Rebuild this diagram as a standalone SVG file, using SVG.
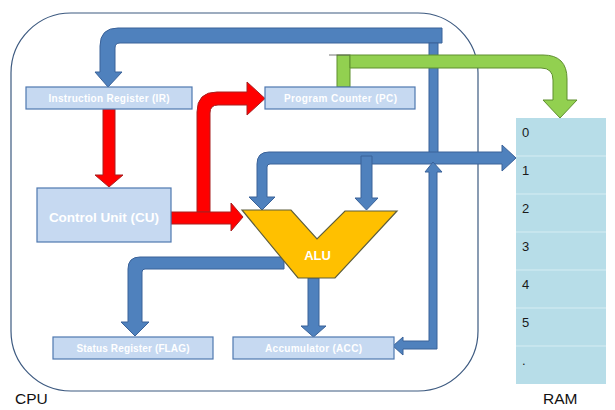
<svg xmlns="http://www.w3.org/2000/svg" width="615" height="410" viewBox="0 0 615 410">
<style>
.box{fill:#c6d9f1;stroke:#4f78b0;stroke-width:1.2}
.lbl{font-family:"Liberation Sans",Arial,sans-serif;font-weight:bold;fill:#ffffff;text-anchor:middle}
.blue{fill:#4f81bd;stroke:#3a6299;stroke-width:1}
.red{fill:#ff0000;stroke:#a82020;stroke-width:1}
.green{fill:#92d050;stroke:#5f8f2f;stroke-width:1}
.num{font-family:"Liberation Sans",Arial,sans-serif;font-size:13px;fill:#1a1a1a}
.cap{font-family:"Liberation Sans",Arial,sans-serif;font-size:15.5px;fill:#111111}
.div{stroke:#d6edf3;stroke-width:1}
</style>
<rect width="615" height="410" fill="#ffffff"/>
<g id="cpu">
<rect x="11" y="13" width="467" height="378" rx="60" ry="60" fill="none" stroke="#3d5a80" stroke-width="1.2"/>
<text class="cap" x="15" y="404">CPU</text>
</g>
<g id="ram">
<rect x="516" y="118" width="90" height="266" fill="#b7dde8"/>
<line class="div" x1="516" y1="156" x2="606" y2="156"/>
<line class="div" x1="516" y1="194" x2="606" y2="194"/>
<line class="div" x1="516" y1="232" x2="606" y2="232"/>
<line class="div" x1="516" y1="270" x2="606" y2="270"/>
<line class="div" x1="516" y1="308" x2="606" y2="308"/>
<line class="div" x1="516" y1="346" x2="606" y2="346"/>
<text class="num" x="522" y="137">0</text>
<text class="num" x="522" y="175">1</text>
<text class="num" x="522" y="213">2</text>
<text class="num" x="522" y="251">3</text>
<text class="num" x="522" y="289">4</text>
<text class="num" x="522" y="327">5</text>
<text class="num" x="522" y="365">.</text>
<text class="cap" x="543" y="404" font-size="15">RAM</text>
</g>
<g id="connectors">
<path class="blue" d="M442,28 L118,28 Q100,28 100,46 L100,72 L95,72 L108,87 L122,72 L115,72 L115,48 Q115,43 120,43 L442,43 Z"/>
<rect class="blue" x="429" y="43" width="9" height="110"/>
<path class="blue" d="M502,152 L502,145 L516,158 L502,171 L502,164 L270,164 Q267,164 267,167 L267,197 L275,197 L262,210 L249,197 L257,197 L257,164 Q257,152 269,152 Z"/>
<path class="blue" d="M361,156 L372,156 L372,198 L378,198 L366.5,210 L355,198 L361,198 Z"/>
<path class="blue" d="M393,346 L403,337 L403,341 L429,341 L429,172 L425,172 L433,162 L442,172 L437,172 L437,349 L403,349 L403,355 Z"/>
<path class="blue" d="M284,257 L140,257 Q128,257 128,269 L128,322 L121,322 L135,336 L149,322 L142,322 L142,272 Q142,269 145,269 L284,269 Z"/>
<path class="blue" d="M308,278 L319,278 L319,326 L326,326 L313.5,337 L301,326 L308,326 Z"/>
<rect class="green" x="337" y="55" width="13" height="32"/>
<line x1="329" y1="55" x2="350" y2="55" stroke="#555555" stroke-width="0.8"/>
<path class="green" d="M350,55 L543,55 Q567,55 567,79 L567,100 L577,100 L560,118 L543,100 L553,100 L553,80 Q553,68 541,68 L350,68 Z"/>
<path class="red" d="M103,109 L115,109 L115,175 L123,175 L109,187 L95,175 L103,175 Z"/>
<path class="red" d="M197,212 L197,112 Q197,92 217,92 L247,92 L247,82 L265,98.5 L247,115 L247,105 L218,105 Q210,105 210,113 L210,212 Z"/>
<path class="red" d="M171,212 L231,212 L231,203 L243,217 L231,231 L231,224 L171,224 Z"/>
</g>
<g id="ir">
<rect class="box" x="26" y="87" width="166" height="22"/>
<text class="lbl" x="109" y="102" font-size="10" textLength="121" lengthAdjust="spacing">Instruction Register (IR)</text>
</g>
<g id="pc">
<rect class="box" x="265" y="87" width="150" height="22"/>
<text class="lbl" x="340.5" y="102" font-size="10" textLength="113" lengthAdjust="spacing">Program Counter (PC)</text>
</g>
<g id="cu">
<rect class="box" x="37" y="188" width="134" height="54"/>
<text class="lbl" x="104" y="222" font-size="13.5">Control Unit (CU)</text>
</g>
<g id="flag">
<rect class="box" x="53" y="337" width="160" height="22"/>
<text class="lbl" x="133" y="352" font-size="10" textLength="113" lengthAdjust="spacing">Status Register (FLAG)</text>
</g>
<g id="acc">
<rect class="box" x="233" y="337" width="161" height="22"/>
<text class="lbl" x="313.5" y="352" font-size="10" textLength="97" lengthAdjust="spacing">Accumulator (ACC)</text>
</g>
<g id="alu">
<polygon points="242,210 291,210 317,239 345,211 397,211 335,278 298,278" fill="#ffc000" stroke="#5e5e3c" stroke-width="1.2" stroke-linejoin="miter"/>
<text class="lbl" x="317.5" y="260" font-size="13">ALU</text>
</g>
</svg>
